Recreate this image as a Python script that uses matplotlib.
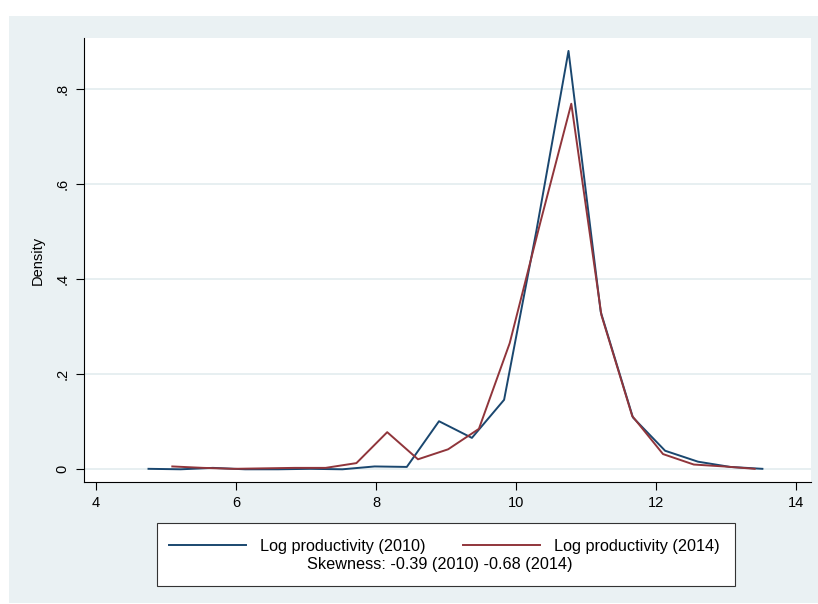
import matplotlib
matplotlib.use("Agg")
from matplotlib import pyplot as plt
from matplotlib.patches import Rectangle
from matplotlib.lines import Line2D

plt.rcParams['font.family'] = ['Liberation Sans', 'DejaVu Sans']

# frequency polygon points, log productivity 2010
x_2010 = [4.75, 5.21, 5.67, 6.13, 6.60, 7.06, 7.52, 7.98, 8.44, 8.90,
          9.37, 9.83, 10.29, 10.75, 11.21, 11.67, 12.13, 12.60, 13.06, 13.52]
dens_2010 = [0.001, 0.0, 0.003, 0.0, 0.0, 0.001, 0.0, 0.006, 0.005, 0.101,
             0.066, 0.146, 0.50, 0.879, 0.331, 0.109, 0.039, 0.016, 0.005, 0.001]

# log productivity 2014
x_2014 = [5.09, 5.53, 5.97, 6.40, 6.84, 7.28, 7.72, 8.16, 8.60, 9.03,
          9.47, 9.91, 10.35, 10.79, 11.22, 11.66, 12.10, 12.54, 12.97, 13.41]
dens_2014 = [0.006, 0.003, 0.001, 0.002, 0.003, 0.003, 0.013, 0.078, 0.021, 0.042,
             0.085, 0.265, 0.52, 0.768, 0.324, 0.112, 0.032, 0.010, 0.006, 0.001]

xticks = [4, 6, 8, 10, 12, 14]
yticks = [0, 0.2, 0.4, 0.6, 0.8]
ytick_labels = ["0", ".2", ".4", ".6", ".8"]

navy = "#1a476f"
maroon = "#90353b"
bg = "#eaf1f3"
grid = "#e3ecef"

W, H = 818, 604
fig = plt.figure(figsize=(W / 100, H / 100), dpi=100)
fig.patch.set_facecolor("white")
# graph region background
fig.patches.append(Rectangle((9 / W, 1 / H), (W - 9) / W, (603 - 16) / H,
                             transform=fig.transFigure, facecolor=bg,
                             edgecolor="none", zorder=-10))

ax = fig.add_axes([83.5 / W, (H - 482) / H, (811 - 83.5) / W, (482 - 38) / H])
ax.set_facecolor("white")

ax.plot(x_2010, dens_2010, color=navy, lw=1.4)
ax.plot(x_2014, dens_2014, color=maroon, lw=1.4)

ax.set_xlim(4 - 12.5 / 70, 14 + 15 / 70)
ax.set_ylim(-12.7 / 476, (469.3 - 38) / 476)

ax.set_xticks(xticks)
ax.set_yticks(yticks)
ax.set_yticklabels(ytick_labels, rotation=90, va="center")
ax.tick_params(axis="both", direction="out", length=6, width=0.8,
               labelsize=10.5, colors="black", pad=4)
ax.yaxis.grid(True, color=grid, lw=1.2)
ax.set_axisbelow(True)
for s in ["top", "right"]:
    ax.spines[s].set_visible(False)
for s in ["left", "bottom"]:
    ax.spines[s].set_linewidth(0.8)
    ax.spines[s].set_color("black")

ax.set_ylabel("Density", fontsize=10.5, labelpad=8)

# legend box
fig.patches.append(Rectangle((157 / W, (H - 586) / H), (735 - 157) / W, (586 - 523) / H,
                             transform=fig.transFigure, facecolor="white",
                             edgecolor="#333333", lw=0.8, zorder=5))
handles = [Line2D([], [], color=navy, lw=1.4), Line2D([], [], color=maroon, lw=1.4)]
leg = fig.legend(handles, ["Log productivity (2010)", "Log productivity (2014)"],
                 loc="center", bbox_to_anchor=(444 / W, (H - 546) / H),
                 ncol=2, frameon=False, fontsize=11.7, handlelength=4.75,
                 handletextpad=0.85, columnspacing=2.3, borderpad=0)
leg.set_zorder(6)
fig.text(440 / W, (H - 565) / H, "Skewness: -0.39 (2010) -0.68 (2014)",
         ha="center", va="center", fontsize=11.7, zorder=6)

plt.savefig("out.png", dpi=100)
